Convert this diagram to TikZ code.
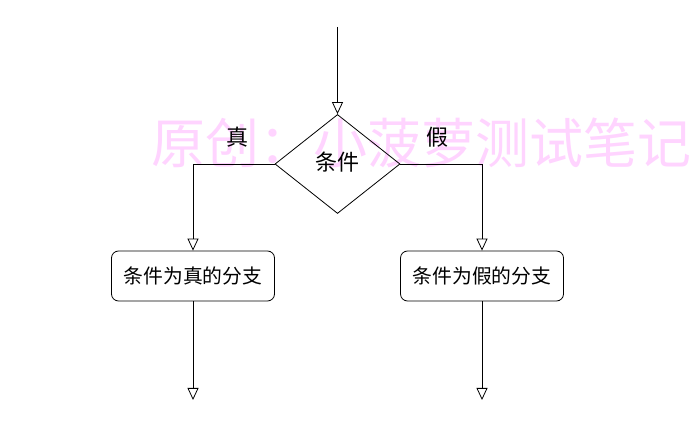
\documentclass[tikz,border=0pt]{standalone}
\usepackage{fontspec}
\newfontfamily\cjk{Noto Sans CJK SC}
\usepackage{tikz}
\usetikzlibrary{positioning,shapes.geometric,arrows.meta}
\definecolor{wmpink}{HTML}{FFD4FF}

\begin{document}
\begin{tikzpicture}[x=1pt,y=1pt,line width=.8pt,
  flow/.style={-{Triangle[open,length=12pt,width=11pt]}},
  cond/.style={diamond,draw,inner sep=0pt,minimum width=125pt,minimum height=99pt},
  branch/.style={draw,rounded corners=7pt,minimum width=163pt,minimum height=50pt,font=\cjk\fontsize{19.8}{20}\selectfont}]
\useasboundingbox (0,0) rectangle (700,433);
\node[text=wmpink,font=\cjk\fontsize{54}{54}\selectfont] (wm) at (421,290) {原创：小菠萝测试笔记};
\coordinate (start) at (337.5,406);
\node[cond] (c) at (337.5,269) {};
\node[font=\cjk\fontsize{22}{22}\selectfont] (ct) at (337.5,271) {条件};
\node[branch] (t) at (193,157) {条件为真的分支};
\node[branch] (f) at (482,157) {条件为假的分支};
\node[font=\cjk\fontsize{22}{22}\selectfont] (tl) at (237,296) {真};
\node[font=\cjk\fontsize{22}{22}\selectfont] (fl) at (437,296) {假};
\coordinate (tend) at (193,33);
\coordinate (fend) at (482,33);
\draw[flow] (start) -- (c.north);
\draw[flow] (c.west) -| (t.north);
\draw[flow] (c.east) -| (f.north);
\draw[flow] (t.south) -- (tend);
\draw[flow] (f.south) -- (fend);
\end{tikzpicture}
\end{document}
